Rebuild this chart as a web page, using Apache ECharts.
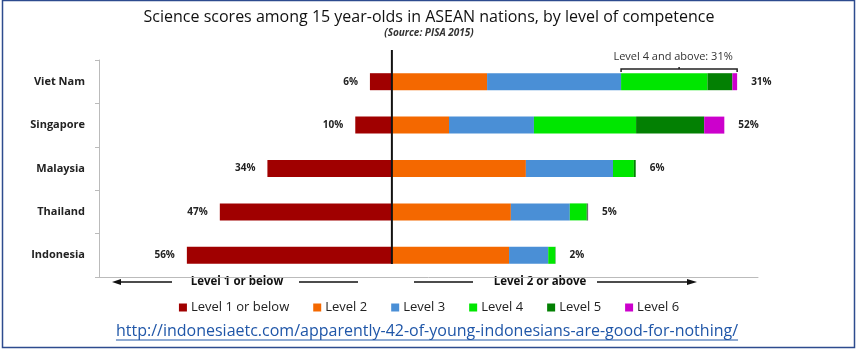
<!DOCTYPE html>
<html><head><meta charset="utf-8">
<script src="https://cdn.jsdelivr.net/npm/echarts@6/dist/echarts.min.js"></script>
<style>html,body{margin:0;padding:0;background:#fff}#c{width:858px;height:351px}</style>
</head><body><div id="c"></div>
<script>
const countries = ['Viet Nam','Singapore','Malaysia','Thailand','Indonesia'];
const level1 = [6,10,34,47,56];
const level2 = [26,15.6,36.6,32.5,32];
const level3 = [36.6,23.2,23.8,16.1,10.7];
const level4 = [23.6,27.9,5.7,4.6,1.9];
const level5 = [6.8,18.6,0.5,0.3,0.1];
const level6 = [1.3,5.5,0,0.1,0];
const rightLabels = [31,52,6,5,2];
const seriesNames = ['Level 1 or below','Level 2','Level 3','Level 4','Level 5','Level 6'];
const colors = ['#a00000','#f46800','#4a8fd6','#00e600','#038003','#cc00cc'];
const bracketText = 'Level 4 and above: 31%';
const leftArrowText = 'Level 1 or below';
const rightArrowText = 'Level 2 or above';
const linkText = 'http://indonesiaetc.com/apparently-42-of-young-indonesians-are-good-for-nothing/';
const titleText = 'Science scores among 15 year-olds in ASEAN nations, by level of competence';
const subText = '(Source: PISA 2015)';

const FONT = 'Open Sans';
const chart = echarts.init(document.getElementById('c'), null, {renderer:'canvas'});
const labelStyle = {fontFamily: FONT, fontWeight: 'bold', fontSize: 10, color: '#222'};
const positives = [level2, level3, level4, level5, level6];

const series = [{
  name: seriesNames[0], type: 'bar', stack: 'total', barWidth: 17,
  itemStyle: {color: colors[0]},
  data: level1.map(v => -v),
  label: Object.assign({show: true, position: 'left', distance: 12,
    formatter: p => Math.abs(p.value) + '%'}, labelStyle)
}];
positives.forEach((arr, i) => {
  const s = {name: seriesNames[i+1], type: 'bar', stack: 'total', barWidth: 17,
    itemStyle: {color: colors[i+1]}, data: arr.slice()};
  if (i === positives.length - 1) {
    s.label = Object.assign({show: true, position: 'right', distance: 14,
      formatter: p => rightLabels[p.dataIndex] + '%'}, labelStyle);
  }
  series.push(s);
});

const option = {
  animation: false,
  backgroundColor: '#fff',
  title: {
    text: titleText, subtext: subText, left: 'center', top: 4, itemGap: 3,
    textStyle: {fontFamily: FONT, fontSize: 16, fontWeight: 'normal', color: '#111'},
    subtextStyle: {fontFamily: FONT, fontSize: 10, fontStyle: 'italic', fontWeight: 'bold', color: '#333'}
  },
  legend: {
    data: seriesNames, top: 296, left: 'center', itemWidth: 8, itemHeight: 8, itemGap: 24,
    icon: 'rect',
    textStyle: {fontFamily: FONT, fontSize: 13, color: '#222', padding: [0,0,0,-1]}
  },
  grid: {left: 99, right: 100, top: 60, bottom: 74, containLabel: false},
  xAxis: {
    type: 'value', min: -80, max: 100,
    axisLine: {show: true, onZero: false, lineStyle: {color: '#bbb'}},
    axisTick: {show: false}, axisLabel: {show: false}, splitLine: {show: false}
  },
  yAxis: {
    type: 'category', data: countries, inverse: true,
    axisLine: {show: true, onZero: false, lineStyle: {color: '#bbb'}},
    axisTick: {show: true, length: 4, lineStyle: {color: '#bbb'}},
    axisLabel: {fontFamily: FONT, fontWeight: 'bold', fontSize: 11, color: '#222', margin: 14}
  },
  series: series
};
chart.setOption(option);

// Overlay annotations computed from the axes
const zeroX = chart.convertToPixel({xAxisIndex: 0}, 0);
const l4start = level2[0] + level3[0];
const l6end = l4start + level4[0] + level5[0] + level6[0];
const bx1 = chart.convertToPixel({xAxisIndex: 0}, l4start);
const bx2 = chart.convertToPixel({xAxisIndex: 0}, l6end);
const by = 69;

const linkFont = 16;
const ctx = document.createElement('canvas').getContext('2d');
ctx.font = linkFont + 'px "' + FONT + '"';
const linkW = ctx.measureText(linkText).width;
const linkCX = 427, linkY = 331;

const arrowY = 282;
const arrowStyle = {stroke: '#111', lineWidth: 1.5};
const arrowTextStyle = {fontFamily: FONT, fontWeight: 'bold', fontSize: 11.5, fill: '#111', align: 'center', verticalAlign: 'middle'};

chart.setOption({
  graphic: [
    {type: 'rect', shape: {x: 2.5, y: 0.5, width: 852, height: 347}, style: {fill: 'none', stroke: '#2d4b8e', lineWidth: 1.5}, silent: true},
    {type: 'line', shape: {x1: zeroX, y1: 50, x2: zeroX, y2: 264}, style: {stroke: '#111', lineWidth: 2}, z: 100},
    // bracket
    {type: 'polyline', shape: {points: [[bx1, by+3],[bx1, by],[bx2, by],[bx2, by+3]]}, style: {stroke: '#222', lineWidth: 1.5, fill: 'none'}, z: 100},
    {type: 'line', shape: {x1: (bx1+bx2)/2, y1: by, x2: (bx1+bx2)/2, y2: by-2}, style: {stroke: '#222', lineWidth: 1.5}, z: 100},
    {type: 'text', x: (bx1+bx2)/2 - 6, y: 57, style: {text: bracketText, fontFamily: FONT, fontSize: 11, fill: '#333', align: 'center', verticalAlign: 'middle'}, z: 100},
    // left arrow
    {type: 'line', shape: {x1: 117, y1: arrowY, x2: 172, y2: arrowY}, style: arrowStyle},
    {type: 'polygon', shape: {points: [[112, arrowY],[121, arrowY-3],[121, arrowY+3]]}, style: {fill: '#111'}},
    {type: 'text', x: 237, y: arrowY, style: Object.assign({text: leftArrowText}, arrowTextStyle)},
    {type: 'line', shape: {x1: 299, y1: arrowY, x2: 358, y2: arrowY}, style: arrowStyle},
    // right arrow
    {type: 'line', shape: {x1: 414, y1: arrowY, x2: 473, y2: arrowY}, style: arrowStyle},
    {type: 'text', x: 540, y: arrowY, style: Object.assign({text: rightArrowText}, arrowTextStyle)},
    {type: 'line', shape: {x1: 597, y1: arrowY, x2: 690, y2: arrowY}, style: arrowStyle},
    {type: 'polygon', shape: {points: [[697, arrowY],[687, arrowY-3],[687, arrowY+3]]}, style: {fill: '#111'}},
    // link
    {type: 'text', x: linkCX, y: linkY, style: {text: linkText, fontFamily: FONT, fontSize: linkFont, fill: '#1f56a8', align: 'center', verticalAlign: 'middle'}},
    {type: 'line', shape: {x1: linkCX - linkW/2, y1: linkY + 9, x2: linkCX + linkW/2, y2: linkY + 9}, style: {stroke: '#1f56a8', lineWidth: 1}}
  ]
});
</script>
</body></html>
